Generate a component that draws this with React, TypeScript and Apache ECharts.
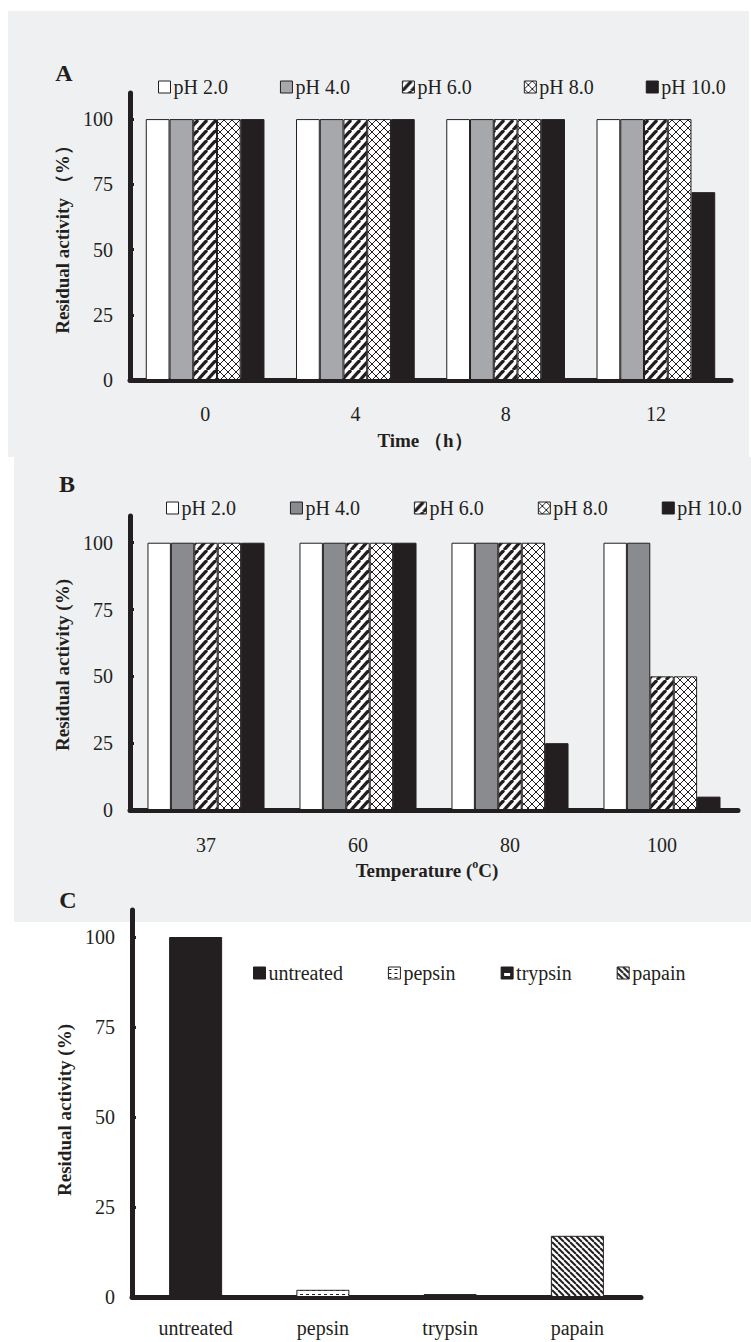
import React, { useEffect, useRef } from 'react';
import * as echarts from 'echarts';

// ---------- data ----------
const phNames = ['pH 2.0', 'pH 4.0', 'pH 6.0', 'pH 8.0', 'pH 10.0'];

const timeCats = ['0', '4', '8', '12'];
const timePh2 = [100, 100, 100, 100];
const timePh4 = [100, 100, 100, 100];
const timePh6 = [100, 100, 100, 100];
const timePh8 = [100, 100, 100, 100];
const timePh10 = [100, 100, 100, 72];

const tempCats = ['37', '60', '80', '100'];
const tempPh2 = [100, 100, 100, 100];
const tempPh4 = [100, 100, 100, 100];
const tempPh6 = [100, 100, 100, 50];
const tempPh8 = [100, 100, 100, 50];
const tempPh10 = [100, 100, 25, 5];

const protCats = ['untreated', 'pepsin', 'trypsin', 'papain'];
const untreatedVals = [100, '-', '-', '-'];
const pepsinVals = ['-', 2, '-', '-'];
const trypsinVals = ['-', '-', 0.8, '-'];
const papainVals = ['-', '-', '-', 17];

const yTicks = [0, 25, 50, 75, 100];

// ---------- style ----------
const FONT = "'Liberation Serif', 'Times New Roman', Times, serif";
const INK = '#231f20';
const BG = '#eff0f2';

function pattern(w: number, h: number, draw: (ctx: CanvasRenderingContext2D) => void, bg = '#ffffff') {
  const c = document.createElement('canvas');
  c.width = w;
  c.height = h;
  const ctx = c.getContext('2d') as CanvasRenderingContext2D;
  ctx.fillStyle = bg;
  ctx.fillRect(0, 0, w, h);
  draw(ctx);
  return { image: c, imageWidth: w, imageHeight: h, repeat: 'repeat' };
}

function slash(w: number, h: number, lw: number) {
  return pattern(w, h, (ctx) => {
    ctx.strokeStyle = INK;
    ctx.lineWidth = lw;
    for (const k of [-1, 0, 1]) {
      ctx.beginPath();
      ctx.moveTo(k * w, h);
      ctx.lineTo(k * w + w, 0);
      ctx.stroke();
    }
  });
}
function backslash(w: number, h: number, lw: number) {
  return pattern(w, h, (ctx) => {
    ctx.strokeStyle = INK;
    ctx.lineWidth = lw;
    for (const k of [-1, 0, 1]) {
      ctx.beginPath();
      ctx.moveTo(k * w, 0);
      ctx.lineTo(k * w + w, h);
      ctx.stroke();
    }
  });
}
function cross(w: number, lw: number) {
  return pattern(w, w, (ctx) => {
    ctx.strokeStyle = INK;
    ctx.lineWidth = lw;
    ctx.beginPath();
    ctx.moveTo(0, 0);
    ctx.lineTo(w, w);
    ctx.moveTo(0, w);
    ctx.lineTo(w, 0);
    ctx.stroke();
  });
}
function dashes() {
  return pattern(6, 4, (ctx) => {
    ctx.fillStyle = INK;
    ctx.fillRect(0, 2, 3, 1);
  });
}
function trypsinFill() {
  return pattern(12, 12, (ctx) => {
    ctx.fillStyle = '#ffffff';
    ctx.fillRect(3, 6, 6, 3);
  }, INK);
}

export default function App() {
  const ref = useRef<HTMLDivElement>(null);

  useEffect(() => {
    document.body.style.margin = '0';
    if (!ref.current) return;
    const chart = echarts.init(ref.current, null, { renderer: 'svg' });

    const hatch = slash(9, 10, 3.2);
    const xhatch = cross(8, 1);
    const fillsA = ['#ffffff', '#a6a8ab', hatch, xhatch, INK];
    const fillsB = ['#ffffff', '#8a8b8e', hatch, xhatch, INK];
    const dataA = [timePh2, timePh4, timePh6, timePh8, timePh10];
    const dataB = [tempPh2, tempPh4, tempPh6, tempPh8, tempPh10];

    const protFills = [INK, dashes(), trypsinFill(), backslash(6, 6, 2)];
    const protData = [untreatedVals, pepsinVals, trypsinVals, papainVals];

    const labelStyle = { color: INK, fontSize: 20, fontFamily: FONT };

    const xAxisBase = (grid: number, data: string[], margin: number) => ({
      type: 'category',
      gridIndex: grid,
      data,
      axisLine: { lineStyle: { color: INK, width: 5 } },
      axisTick: { inside: true, length: 5, lineStyle: { color: INK, width: 3 } },
      axisLabel: { ...labelStyle, margin },
      splitLine: { show: false },
    });
    const yAxisBase = (grid: number, max: number) => ({
      type: 'value',
      gridIndex: grid,
      min: 0,
      max,
      interval: 25,
      axisLine: { show: true, lineStyle: { color: INK, width: 5 } },
      axisTick: { show: true, inside: true, length: 4, lineStyle: { color: INK, width: 3 }, customValues: yTicks },
      axisLabel: { ...labelStyle, margin: 17, customValues: yTicks },
      splitLine: { show: false },
    });

    const legendBase = {
      orient: 'horizontal',
      icon: 'rect',
      itemWidth: 12,
      itemHeight: 12,
      selectedMode: false,
      textStyle: { color: INK, fontSize: 20, fontFamily: FONT, padding: [0, 0, 0, -2] },
      itemStyle: { borderColor: INK, borderWidth: 1 },
    };

    const series: any[] = [];
    phNames.forEach((n, i) => {
      series.push({
        name: n, type: 'bar', xAxisIndex: 0, yAxisIndex: 0, data: dataA[i],
        barGap: '0%', barCategoryGap: '21%',
        itemStyle: { color: fillsA[i], borderColor: INK, borderWidth: 1 },
      });
    });
    phNames.forEach((n, i) => {
      series.push({
        name: n, type: 'bar', xAxisIndex: 1, yAxisIndex: 1, data: dataB[i],
        barGap: '0%', barCategoryGap: '23%',
        itemStyle: { color: fillsB[i], borderColor: INK, borderWidth: 1 },
      });
    });
    protCats.forEach((n, i) => {
      series.push({
        name: n, type: 'bar', xAxisIndex: 2, yAxisIndex: 2, data: protData[i],
        barGap: '-100%', barWidth: 53,
        itemStyle: { color: protFills[i], borderColor: INK, borderWidth: 1 },
      });
    });

    const letter = (t: string, x: number, y: number) => ({
      type: 'text', x, y,
      style: { text: t, fill: INK, font: `bold 24px ${FONT}`, align: 'center', verticalAlign: 'middle' },
    });
    const yTitle = (t: string, x: number, y: number) => ({
      type: 'text', x, y, rotation: Math.PI / 2,
      style: { text: t, fill: INK, font: `bold 19px ${FONT}`, align: 'center', verticalAlign: 'middle' },
    });

    chart.setOption({
      animation: false,
      backgroundColor: '#ffffff',
      grid: [
        { left: 130, top: 93, width: 601, height: 287 },
        { left: 130, top: 516, width: 608, height: 294 },
        { left: 132, top: 910, width: 509, height: 387 },
      ],
      xAxis: [xAxisBase(0, timeCats, 24), xAxisBase(1, tempCats, 25), xAxisBase(2, protCats, 21)],
      yAxis: [yAxisBase(0, 110), yAxisBase(1, 110), yAxisBase(2, 107.5)],
      legend: [
        { ...legendBase, left: 153, top: 72, itemGap: 52, data: phNames },
        {
          ...legendBase, left: 161, top: 493, itemGap: 54,
          data: phNames.map((n, i) => ({ name: n, itemStyle: { color: fillsB[i] } })),
        },
        { ...legendBase, left: 248, top: 958, itemGap: 45, data: protCats },
      ],
      graphic: [
        { type: 'rect', z: -100, silent: true, shape: { x: 8, y: 11, width: 741, height: 446 }, style: { fill: BG } },
        { type: 'rect', z: -100, silent: true, shape: { x: 14, y: 457, width: 737, height: 465 }, style: { fill: BG } },
        letter('A', 64, 73),
        letter('B', 67, 484),
        letter('C', 68, 900),
        yTitle('Residual activity （%）', 62, 235),
        yTitle('Residual activity (%)', 62, 665),
        yTitle('Residual activity (%)', 64, 1110),
        {
          type: 'text', x: 425, y: 440,
          style: { text: 'Time （h）', fill: INK, font: `bold 19px ${FONT}`, align: 'center', verticalAlign: 'middle' },
        },
        {
          type: 'text', x: 427, y: 870,
          style: {
            text: '{b|Temperature (}{s|o}{b|C)}',
            align: 'center', verticalAlign: 'middle',
            rich: {
              b: { fill: INK, fontSize: 19, fontWeight: 'bold', fontFamily: FONT, lineHeight: 24 },
              s: { fill: INK, fontSize: 12, fontWeight: 'bold', fontFamily: FONT, lineHeight: 12, verticalAlign: 'top' },
            },
          },
        },
      ],
      series,
    });

    return () => chart.dispose();
  }, []);

  return <div ref={ref} style={{ position: 'absolute', left: 0, top: 0, width: 751, height: 1342 }} />;
}
